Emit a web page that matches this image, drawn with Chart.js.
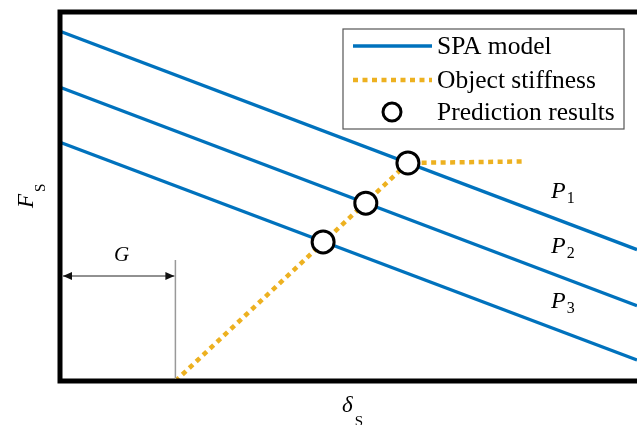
<!DOCTYPE html>
<html>
<head>
<meta charset="utf-8">
<script src="https://cdn.jsdelivr.net/npm/chart.js@4.4.1/dist/chart.umd.min.js"></script>
<style>
  html, body { margin: 0; padding: 0; background: #fff; overflow: hidden; }
  #wrap { width: 637px; height: 425px; }
</style>
</head>
<body>
<div id="wrap"><canvas id="grafico"></canvas></div>
<script>
// dados (unidades arbitrarias, eixo 0..10)
const deltaRange = [0, 10];
const forceRange = [0, 10];
const spaLabels = ['1', '2', '3'];          // P1, P2, P3
const spaStart = [9.48, 7.96, 6.47];        // F em delta = 0
const spaEnd = [3.56, 2.04, 0.57];          // F em delta = 10
const stiffX = [2.0, 6.03, 8.02];
const stiffY = [0, 5.91, 5.95];
const predX = [6.03, 5.30, 4.56];
const predY = [5.91, 4.82, 3.77];
const gapG = 2.0;

const azul = '#0072BD';
const laranja = '#EDB120';
const serif = '"Liberation Serif", "Times New Roman", serif';

const datasets = [];

// resultados da previsao (circulos) - desenhados por cima
datasets.push({
    label: 'Prediction results',
    data: predX.map((x, i) => ({ x: x, y: predY[i] })),
    showLine: false,
    pointRadius: 11,
    pointBorderWidth: 3,
    pointBackgroundColor: '#fff',
    pointBorderColor: '#000',
    order: 0
});

// curva de rigidez do objeto (pontilhada)
datasets.push({
    label: 'Object stiffness',
    data: stiffX.map((x, i) => ({ x: x, y: stiffY[i] })),
    showLine: true,
    borderColor: laranja,
    borderWidth: 4.5,
    borderDash: [5, 4.5],
    pointRadius: 0,
    order: 1
});

// modelo SPA (tres retas)
spaStart.forEach((y0, i) => {
    datasets.push({
        label: 'SPA model',
        data: [{ x: deltaRange[0], y: y0 }, { x: deltaRange[1], y: spaEnd[i] }],
        showLine: true,
        borderColor: azul,
        borderWidth: 3.3,
        pointRadius: 0,
        order: 2
    });
});

function textoSub(ctx, base, sub, x, y, fBase, fSub, dx, dy) {
    ctx.font = fBase;
    ctx.fillText(base, x, y);
    const w = ctx.measureText(base).width;
    ctx.font = fSub;
    ctx.fillText(sub, x + w + dx, y + dy);
}

// moldura, legenda, anotacoes
const extras = {
    id: 'extras',
    afterDraw(chart) {
        const ctx = chart.ctx;
        const a = chart.chartArea;
        const sx = chart.scales.x;
        ctx.save();

        // moldura (sem lado direito, cortado na figura)
        ctx.strokeStyle = '#000';
        ctx.lineWidth = 5;
        ctx.lineJoin = 'miter';
        ctx.beginPath();
        ctx.moveTo(a.right + 10, a.top);
        ctx.lineTo(a.left, a.top);
        ctx.lineTo(a.left, a.bottom);
        ctx.lineTo(a.right + 10, a.bottom);
        ctx.stroke();

        // folga G
        const gx = sx.getPixelForValue(gapG);
        ctx.strokeStyle = '#999';
        ctx.lineWidth = 1.5;
        ctx.beginPath();
        ctx.moveTo(gx, 260);
        ctx.lineTo(gx, a.bottom - 2);
        ctx.stroke();
        const ay = 276;
        const x0 = a.left + 3;
        const x1 = gx - 1;
        ctx.strokeStyle = '#222';
        ctx.lineWidth = 1;
        ctx.beginPath();
        ctx.moveTo(x0, ay);
        ctx.lineTo(x1, ay);
        ctx.stroke();
        ctx.fillStyle = '#111';
        ctx.beginPath();
        ctx.moveTo(x0, ay); ctx.lineTo(x0 + 9, ay - 4); ctx.lineTo(x0 + 9, ay + 4); ctx.closePath();
        ctx.fill();
        ctx.beginPath();
        ctx.moveTo(x1, ay); ctx.lineTo(x1 - 9, ay - 4); ctx.lineTo(x1 - 9, ay + 4); ctx.closePath();
        ctx.fill();
        ctx.fillStyle = '#000';
        ctx.font = 'italic 21px ' + serif;
        ctx.textAlign = 'center';
        ctx.textBaseline = 'alphabetic';
        ctx.fillText('G', (a.left + gx) / 2 + 4, 261);

        // rotulos P1..P3
        ctx.textAlign = 'left';
        const pys = [198, 253, 308];
        spaLabels.forEach((s, i) => {
            textoSub(ctx, 'P', s, 551, pys[i], 'italic 24px ' + serif, '16px ' + serif, 1, 5);
        });

        // titulos dos eixos
        textoSub(ctx, '\u03b4', 'S', 342, 412, 'italic 23px ' + serif, '15px ' + serif, 2, 14);
        ctx.save();
        ctx.translate(33, 208);
        ctx.rotate(-Math.PI / 2);
        textoSub(ctx, 'F', 'S', 0, 0, 'italic 23px ' + serif, '15px ' + serif, 2, 12);
        ctx.restore();

        // legenda
        const bx = 343, by = 29, bw = 281, bh = 100;
        ctx.fillStyle = '#fff';
        ctx.fillRect(bx, by, bw, bh);
        ctx.strokeStyle = '#555';
        ctx.lineWidth = 1.2;
        ctx.strokeRect(bx, by, bw, bh);

        const rows = [46, 80, 112];
        ctx.strokeStyle = azul;
        ctx.lineWidth = 3.3;
        ctx.beginPath();
        ctx.moveTo(353, rows[0]); ctx.lineTo(432, rows[0]);
        ctx.stroke();
        ctx.strokeStyle = laranja;
        ctx.lineWidth = 4.5;
        ctx.setLineDash([5, 4.5]);
        ctx.beginPath();
        ctx.moveTo(353, rows[1]); ctx.lineTo(432, rows[1]);
        ctx.stroke();
        ctx.setLineDash([]);
        ctx.strokeStyle = '#000';
        ctx.fillStyle = '#fff';
        ctx.lineWidth = 3;
        ctx.beginPath();
        ctx.arc(392, rows[2], 9, 0, Math.PI * 2);
        ctx.fill();
        ctx.stroke();

        ctx.fillStyle = '#000';
        ctx.font = '25.5px ' + serif;
        ctx.textBaseline = 'middle';
        ctx.fillText('SPA model', 437, rows[0] + 1);
        ctx.fillText('Object stiffness', 437, rows[1] + 1);
        ctx.fillText('Prediction results', 437, rows[2] + 1);

        ctx.restore();
    }
};

document.addEventListener('DOMContentLoaded', function() {
    const ctx = document.getElementById('grafico').getContext('2d');
    new Chart(ctx, {
        type: 'scatter',
        data: { datasets: datasets },
        options: {
            responsive: true,
            maintainAspectRatio: false,
            animation: false,
            layout: { autoPadding: false, padding: { left: 60, top: 12, right: 0, bottom: 44 } },
            plugins: {
                legend: { display: false },
                tooltip: { enabled: false }
            },
            scales: {
                x: { type: 'linear', min: deltaRange[0], max: deltaRange[1], display: false },
                y: { type: 'linear', min: forceRange[0], max: forceRange[1], display: false }
            }
        },
        plugins: [extras]
    });
});
</script>
</body>
</html>
